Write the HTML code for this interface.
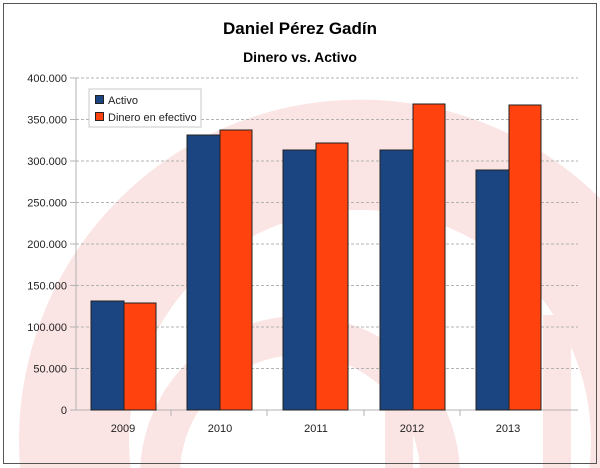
<!DOCTYPE html>
<html><head><meta charset="utf-8"><style>
html,body{margin:0;padding:0;background:#fff;width:600px;height:468px;overflow:hidden;}
svg{display:block;font-family:"Liberation Sans",sans-serif;overflow:hidden;}
</style></head><body>
<svg width="600" height="468" viewBox="0 0 600 468">
<defs><clipPath id="c"><rect x="0" y="0" width="600" height="468"/></clipPath></defs>
<rect x="0" y="0" width="600" height="468" fill="#fff"/>
<g clip-path="url(#c)" fill="#fbe4e4">
<path d="M20.1 468 A341 341 0 1 1 699.9 468 L589.4 468 A231 231 0 1 0 130.6 468 Z"/>
<path d="M140.2 468 A160 160 0 0 1 459.8 468 L419.8 468 A120 120 0 0 0 180.2 468 Z"/>
<rect x="385" y="315" width="28" height="153"/>
<rect x="543" y="315" width="28" height="153"/>
</g>
<rect x="3.5" y="3.5" width="593" height="460" fill="none" stroke="#555" stroke-width="1"/>
<text x="300" y="34" text-anchor="middle" font-size="17" font-weight="bold">Daniel Pérez Gadín</text>
<text x="300" y="62" text-anchor="middle" font-size="14" font-weight="bold">Dinero vs. Activo</text>
<g stroke="#b3b3b3" stroke-dasharray="3,2" stroke-width="1">
<line x1="76" x2="578" y1="78" y2="78"/><line x1="76" x2="578" y1="119.5" y2="119.5"/>
<line x1="76" x2="578" y1="161" y2="161"/><line x1="76" x2="578" y1="202.5" y2="202.5"/>
<line x1="76" x2="578" y1="244" y2="244"/><line x1="76" x2="578" y1="285.5" y2="285.5"/>
<line x1="76" x2="578" y1="327" y2="327"/><line x1="76" x2="578" y1="368.5" y2="368.5"/>
</g>
<g stroke="#b3b3b3"><line x1="76" y1="78" x2="76" y2="410"/><line x1="70" y1="410" x2="578" y2="410"/>
<line x1="70" y1="78" x2="76" y2="78"/><line x1="70" y1="119.5" x2="76" y2="119.5"/><line x1="70" y1="161" x2="76" y2="161"/><line x1="70" y1="202.5" x2="76" y2="202.5"/><line x1="70" y1="244" x2="76" y2="244"/><line x1="70" y1="285.5" x2="76" y2="285.5"/><line x1="70" y1="327" x2="76" y2="327"/><line x1="70" y1="368.5" x2="76" y2="368.5"/>
<line x1="171" y1="410" x2="171" y2="416"/><line x1="267" y1="410" x2="267" y2="416"/><line x1="364" y1="410" x2="364" y2="416"/><line x1="460" y1="410" x2="460" y2="416"/></g>
<g font-size="11" fill="#222" text-anchor="end">
<text x="67" y="82">400.000</text><text x="67" y="123.5">350.000</text><text x="67" y="165">300.000</text><text x="67" y="206.5">250.000</text><text x="67" y="248">200.000</text><text x="67" y="289.5">150.000</text><text x="67" y="331">100.000</text><text x="67" y="372.5">50.000</text><text x="67" y="414">0</text>
</g>
<g font-size="11" fill="#222" text-anchor="middle">
<text x="123" y="432">2009</text><text x="220" y="432">2010</text><text x="316" y="432">2011</text><text x="412" y="432">2012</text><text x="508" y="432">2013</text>
</g>
<g stroke="#222" stroke-width="1">
<rect x="91" y="301" width="33" height="109" fill="#1a4580"/><rect x="124" y="303" width="32" height="107" fill="#ff420e"/>
<rect x="187" y="135" width="33" height="275" fill="#1a4580"/><rect x="220" y="130" width="32" height="280" fill="#ff420e"/>
<rect x="283" y="150" width="33" height="260" fill="#1a4580"/><rect x="316" y="143" width="32" height="267" fill="#ff420e"/>
<rect x="380" y="150" width="33" height="260" fill="#1a4580"/><rect x="413" y="104" width="32" height="306" fill="#ff420e"/>
<rect x="476" y="170" width="33" height="240" fill="#1a4580"/><rect x="509" y="105" width="32" height="305" fill="#ff420e"/>
</g>
<rect x="89" y="89" width="112" height="38" fill="#fff" stroke="#c8c8c8"/>
<rect x="95.5" y="95.5" width="8" height="8" fill="#1a4580" stroke="#222"/>
<rect x="95.5" y="112.5" width="8" height="8" fill="#ff420e" stroke="#222"/>
<text x="108" y="104" font-size="11" fill="#222">Activo</text>
<text x="108" y="121" font-size="11" fill="#222">Dinero en efectivo</text>
</svg>
</body></html>
